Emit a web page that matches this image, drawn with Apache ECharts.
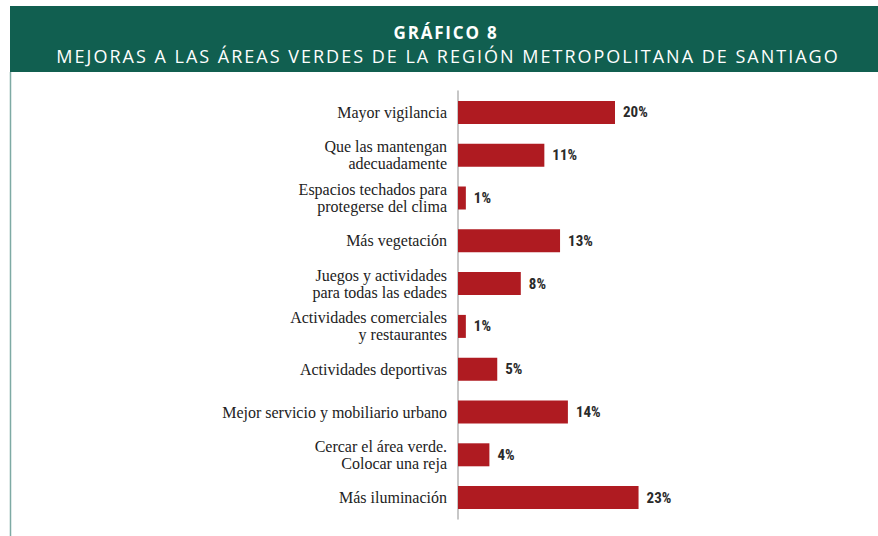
<!DOCTYPE html>
<html>
<head>
<meta charset="utf-8">
<script src="https://cdn.jsdelivr.net/npm/echarts@6/dist/echarts.min.js"></script>
<style>
  html, body { margin: 0; padding: 0; background: #fff; }
  #chart { width: 878px; height: 536px; }
  /* spaced-out header lettering, as in the print original */
  #chart text[fill="#fffffe"] { letter-spacing: 1.8px; }
  #chart text[fill="#fefefe"] { letter-spacing: 2px; }
</style>
</head>
<body>
<div id="chart"></div>
<script>
const categories = [
  "Mayor vigilancia",
  "Que las mantengan\nadecuadamente",
  "Espacios techados para\nprotegerse del clima",
  "Más vegetación",
  "Juegos y actividades\npara todas las edades",
  "Actividades comerciales\ny restaurantes",
  "Actividades deportivas",
  "Mejor servicio y mobiliario urbano",
  "Cercar el área verde.\nColocar una reja",
  "Más iluminación"
];
const values = [20, 11, 1, 13, 8, 1, 5, 14, 4, 23];

const chart = echarts.init(document.getElementById("chart"), null, { renderer: "svg" });

chart.setOption({
  backgroundColor: "#fff",
  animation: false,
  title: [
    {
      text: "GRÁFICO 8",
      left: 441,
      top: 19,
      textAlign: "center",
      textStyle: { color: "#fffffe", fontFamily: "Open Sans", fontWeight: "bold", fontSize: 17 }
    },
    {
      text: "MEJORAS A LAS ÁREAS VERDES DE LA REGIÓN METROPOLITANA DE SANTIAGO",
      left: 443,
      top: 42,
      textAlign: "center",
      textStyle: { color: "#fefefe", fontFamily: "Open Sans", fontWeight: "normal", fontSize: 18 }
    }
  ],
  graphic: [
    {
      type: "rect",
      z: -1,
      shape: { x: 10, y: 6, width: 868, height: 66 },
      style: { fill: "#115f50" }
    },
    {
      type: "line",
      shape: { x1: 10.5, y1: 72, x2: 10.5, y2: 536 },
      style: { stroke: "#7eaaa4", lineWidth: 1.5 }
    }
  ],
  grid: { left: 458, top: 91, height: 428, width: 235.5 },
  xAxis: {
    type: "value",
    min: 0,
    max: 30,
    show: false
  },
  yAxis: {
    type: "category",
    inverse: true,
    data: categories,
    axisTick: { show: false },
    axisLine: { lineStyle: { color: "#b5b5b5", width: 1.5 } },
    axisLabel: {
      margin: 11,
      color: "#222",
      fontFamily: "'Liberation Serif', serif",
      fontSize: 16,
      lineHeight: 17,
      align: "right"
    }
  },
  series: [
    {
      type: "bar",
      data: values,
      barWidth: 23,
      itemStyle: { color: "#af1b21" },
      label: {
        show: true,
        position: "right",
        distance: 8,
        formatter: "{c}%",
        color: "#2a2a2a",
        fontFamily: "'Roboto Condensed', sans-serif",
        fontWeight: "bold",
        fontSize: 15
      }
    }
  ]
});
</script>
</body>
</html>
